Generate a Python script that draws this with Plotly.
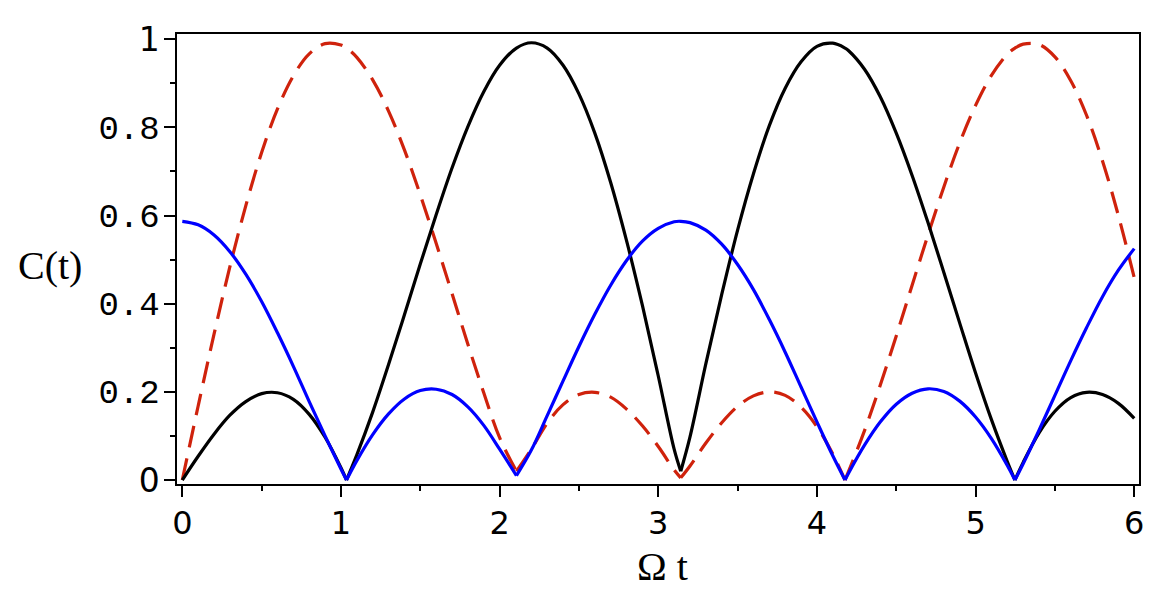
import plotly.graph_objects as go

# Omega t values (shared by all three curves)
t_vals = [0.0, 0.1, 0.2, 0.3, 0.4, 0.5, 0.6, 0.7, 0.8, 0.9, 1.0, 1.035,
          1.1, 1.2, 1.3, 1.4, 1.5, 1.6, 1.7, 1.8, 1.9, 2.0, 2.106,
          2.2, 2.3, 2.4, 2.5, 2.6, 2.7, 2.8, 2.9, 3.0, 3.1, 3.1416,
          3.2, 3.3, 3.4, 3.5, 3.6, 3.7, 3.8, 3.9, 4.0, 4.1, 4.177,
          4.2, 4.3, 4.4, 4.5, 4.6, 4.7, 4.8, 4.9, 5.0, 5.1, 5.2, 5.248,
          5.3, 5.4, 5.5, 5.6, 5.7, 5.8, 5.9, 6.0]

# black solid curve
c_black = [0.0, 0.054, 0.104, 0.147, 0.178, 0.196, 0.198, 0.183, 0.149, 0.097, 0.028, 0.0,
           0.057, 0.154, 0.262, 0.375, 0.490, 0.602, 0.708, 0.802, 0.881, 0.941, 0.980,
           0.992, 0.980, 0.941, 0.876, 0.787, 0.675, 0.543, 0.396, 0.236, 0.070, 0.020,
           0.098, 0.264, 0.421, 0.567, 0.695, 0.804, 0.889, 0.949, 0.984, 0.991, 0.980,
           0.974, 0.932, 0.869, 0.787, 0.691, 0.584, 0.471, 0.356, 0.243, 0.137, 0.042, 0.0,
           0.040, 0.107, 0.156, 0.187, 0.199, 0.194, 0.174, 0.140]

# red dashed curve
c_red = [0.0, 0.168, 0.331, 0.484, 0.622, 0.743, 0.842, 0.917, 0.967, 0.990, 0.987, 0.980,
         0.959, 0.908, 0.837, 0.749, 0.647, 0.537, 0.423, 0.308, 0.198, 0.096, 0.020,
         0.070, 0.129, 0.171, 0.194, 0.199, 0.188, 0.161, 0.123, 0.076, 0.023, 0.005,
         0.032, 0.084, 0.130, 0.167, 0.191, 0.200, 0.192, 0.165, 0.121, 0.059, 0.0,
         0.020, 0.112, 0.216, 0.327, 0.442, 0.556, 0.665, 0.765, 0.850, 0.918, 0.966, 0.980,
         0.989, 0.988, 0.960, 0.906, 0.827, 0.724, 0.600, 0.459]

# blue solid curve
c_blue = [0.587, 0.579, 0.556, 0.518, 0.467, 0.405, 0.334, 0.258, 0.178, 0.100, 0.025, 0.0,
          0.044, 0.103, 0.150, 0.184, 0.203, 0.206, 0.194, 0.166, 0.124, 0.070, 0.010,
          0.068, 0.146, 0.225, 0.303, 0.376, 0.442, 0.498, 0.542, 0.571, 0.586, 0.587,
          0.584, 0.567, 0.535, 0.489, 0.432, 0.364, 0.290, 0.211, 0.132, 0.055, 0.0,
          0.016, 0.079, 0.132, 0.172, 0.197, 0.207, 0.201, 0.179, 0.143, 0.094, 0.033, 0.0,
          0.037, 0.113, 0.192, 0.271, 0.346, 0.416, 0.476, 0.525]

# positions (in t_vals) of the cusps of each curve
black_cusps = [1.035, 3.1416, 5.248]
red_cusps = [2.106, 3.1416, 4.177]
blue_cusps = [1.035, 2.106, 4.177, 5.248]

x_ticks = [0, 1, 2, 3, 4, 5, 6]
x_ticktext = ["0", "1", "2", "3", "4", "5", "6"]
y_ticks = [0, 0.2, 0.4, 0.6, 0.8, 1]
y_ticktext = ["0", "0.2", "0.4", "0.6", "0.8", "1"]

MONO = 'font-family:Liberation Mono;font-size:34px'
y_ticklabels = [lab if "." not in lab else f'<span style="{MONO}">{lab}</span>'
                for lab in y_ticktext]


def segments(xs, ys, cusps):
    """Split a curve at its cusps so each smooth arc can be drawn as a spline."""
    cut = [0] + [xs.index(c) for c in cusps] + [len(xs) - 1]
    out = []
    for a, b in zip(cut[:-1], cut[1:]):
        if b > a:
            out.append((xs[a:b + 1], ys[a:b + 1]))
    return out


fig = go.Figure()
for ys, cusps, line in [
    (c_red, red_cusps, dict(color="#CF220C", width=3.2, dash="22px,11px")),
    (c_black, black_cusps, dict(color="#000000", width=3.2)),
    (c_blue, blue_cusps, dict(color="#0000FF", width=3.2)),
]:
    for sx, sy in segments(t_vals, ys, cusps):
        fig.add_trace(go.Scatter(x=sx, y=sy, mode="lines",
                                 line=dict(shape="spline", smoothing=1, **line),
                                 hoverinfo="skip"))

# the page body adds an 8px offset, so the figure is drawn 8px smaller
fig.update_layout(
    width=1149, height=595,
    margin=dict(l=169, r=18, t=20, b=119),
    paper_bgcolor="white", plot_bgcolor="white",
    showlegend=False,
    xaxis=dict(range=[-0.0334, 6.030], tickmode="array", tickvals=x_ticks,
               ticktext=x_ticktext, ticks="outside", ticklen=11, tickwidth=1.5,
               tickcolor="black", showline=True, linecolor="black", linewidth=1.5,
               mirror=True, showgrid=False, zeroline=False,
               tickfont=dict(family="DejaVu Sans", size=32, color="black"),
               ticklabelstandoff=-1,
               minor=dict(dtick=0.5, tick0=0, ticks="outside", ticklen=5,
                          tickwidth=1.5, tickcolor="black", showgrid=False)),
    yaxis=dict(range=[-0.009, 1.0119], tickmode="array", tickvals=y_ticks,
               ticktext=y_ticklabels, ticks="outside", ticklen=11, tickwidth=1.5,
               tickcolor="black", showline=True, linecolor="black", linewidth=1.5,
               mirror=True, showgrid=False, zeroline=False,
               tickfont=dict(family="DejaVu Sans", size=33, color="black"),
               ticklabelstandoff=-2,
               minor=dict(dtick=0.1, tick0=0, ticks="outside", ticklen=5,
                          tickwidth=1.5, tickcolor="black", showgrid=False)),
    annotations=[
        dict(text="C(t)", xref="paper", yref="paper", x=-0.132, y=0.4846,
             xanchor="center", yanchor="middle", showarrow=False,
             font=dict(family="Liberation Serif", size=40, color="black")),
        dict(text="Ω t", xref="paper", yref="paper", x=0.505, y=-0.184,
             xanchor="center", yanchor="middle", showarrow=False,
             font=dict(family="Liberation Serif", size=40, color="black")),
    ],
)

fig.write_html("out.html")
